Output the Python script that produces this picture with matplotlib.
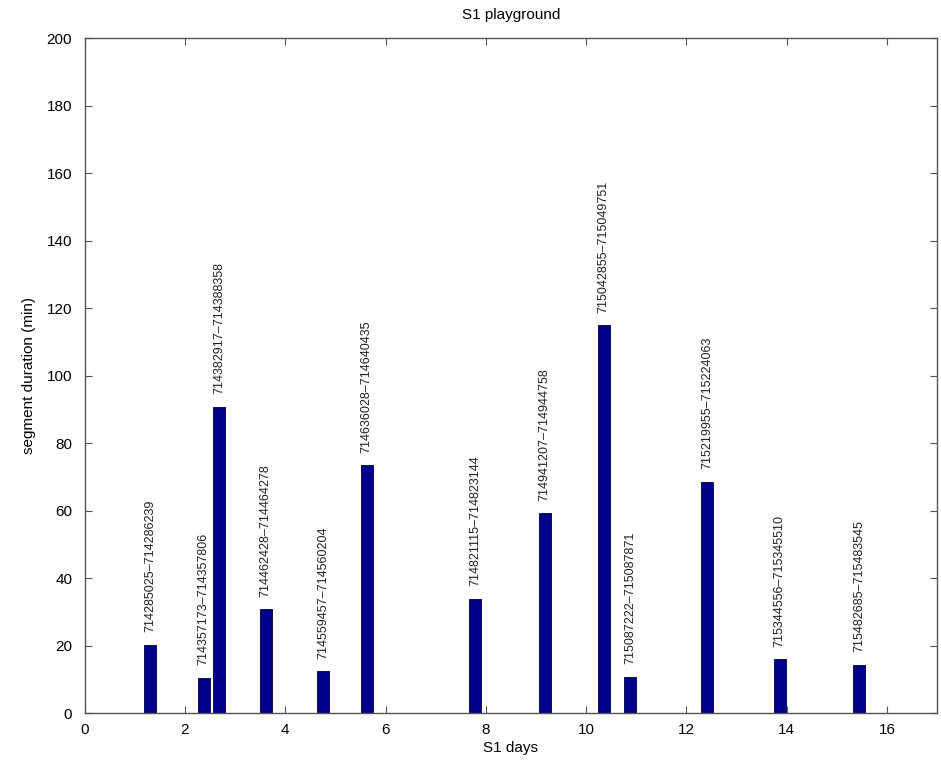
import matplotlib
matplotlib.use("Agg")
import matplotlib.pyplot as plt

days = [1.30, 2.37, 2.68, 3.61, 4.75, 5.62, 7.78, 9.17, 10.35, 10.88, 12.41, 13.86, 15.44]
durations = [20.2, 10.5, 90.7, 30.8, 12.4, 73.5, 33.8, 59.2, 114.9, 10.8, 68.5, 15.9, 14.3]
labels = [
    "714285025\u2013714286239",
    "714357173\u2013714357806",
    "714382917\u2013714388358",
    "714462428\u2013714464278",
    "714559457\u2013714560204",
    "714636028\u2013714640435",
    "714821115\u2013714823144",
    "714941207\u2013714944758",
    "715042855\u2013715049751",
    "715087222\u2013715087871",
    "715219955\u2013715224063",
    "715344556\u2013715345510",
    "715482685\u2013715483545",
]
xticks = [0, 2, 4, 6, 8, 10, 12, 14, 16]
yticks = [0, 20, 40, 60, 80, 100, 120, 140, 160, 180, 200]

plt.rcParams['font.family'] = ['Liberation Sans', 'DejaVu Sans']

fig = plt.figure(figsize=(9.41, 7.63), dpi=100)
ax = fig.add_axes([0.090, 0.0655, 0.906, 0.8845])

ax.bar(days, durations, width=0.24, color='#00008b', edgecolor='#000040', linewidth=0.6)
for x, v, s in zip(days, durations, labels):
    ax.annotate(s, (x, v), xytext=(0, 9), textcoords='offset points',
                rotation=90, ha='center', va='bottom', fontsize=9, color='#222222')

ax.set_xlim(0, 17)
ax.set_ylim(0, 200)
ax.set_xticks(xticks)
ax.set_yticks(yticks)
ax.tick_params(direction='in', top=True, right=True, labelsize=11, length=5, color='#555555')
ax.tick_params(axis='y', pad=9)
ax.tick_params(axis='x', pad=7)
for sp in ax.spines.values():
    sp.set_color('#555555')
    sp.set_linewidth(1.0)
ax.set_xlabel('S1 days', fontsize=11, labelpad=3)
ax.set_ylabel('segment duration (min)', fontsize=11, labelpad=8)
ax.set_title('S1 playground', fontsize=11, pad=14)

fig.savefig('out.png', dpi=100)
